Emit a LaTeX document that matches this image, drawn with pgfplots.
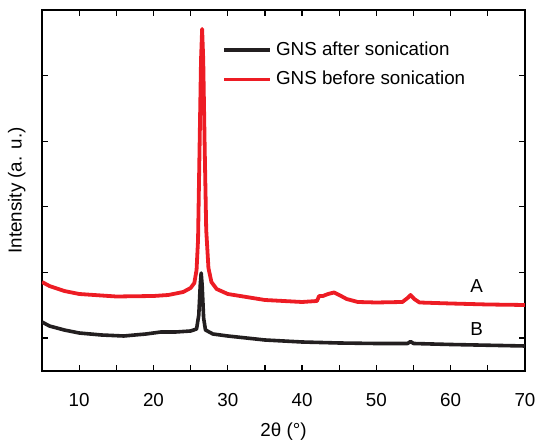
\documentclass[border=0pt]{standalone}
\usepackage{pgfplots}
\pgfplotsset{compat=1.18}
\usepackage{fontspec}
\setmainfont{Liberation Sans}
\definecolor{cred}{RGB}{237,28,36}
\definecolor{cblack}{RGB}{35,31,32}
\begin{document}
\fontsize{9.4pt}{11pt}\selectfont
\begin{tikzpicture}
\begin{axis}[
  scale only axis,
  width=241.5pt, height=180.5pt,
  xmin=5, xmax=70, ymin=0, ymax=361,
  xtick={10,20,30,40,50,60,70},
  minor xtick={5,15,25,35,45,55,65},
  ytick={33,98.6,164.2,229.8,295.4,361},
  yticklabels={},
  tick align=inside,
  major tick length=3pt, minor tick length=3pt,
  axis line style={line width=0.7pt},
  every tick/.style={line width=0.6pt, black},
  /pgf/number format/assume math mode=true,
  ticklabel style={font=\fontsize{9.4pt}{11pt}\selectfont},
  xticklabel style={anchor=center, yshift=-14.5pt},
  xlabel={2θ (°)},
  ylabel={Intensity (a. u.)},
  xlabel style={font=\fontsize{9.4pt}{11pt}\selectfont, at={(axis description cs:0.5,-0.169)}, anchor=center},
  ylabel style={font=\fontsize{9.4pt}{11pt}\selectfont, at={(axis description cs:-0.052,0.5)}, anchor=center},
  legend style={at={(axis description cs:0.36,0.935)}, anchor=north west, draw=none, fill=none,
    font=\fontsize{9.4pt}{11pt}\selectfont, row sep=2.5pt},
  legend cell align=left,
  legend image code/.code={\draw[#1] (0pt,0pt) -- (23pt,0pt);},
]
\addplot[cblack, line width=1.8pt, line join=round] coordinates {
(5,49) (6,45) (8,41) (10,38) (13,36) (16,35) (19,37) (21,39) (23,39) (25,40)
(25.8,42) (26.1,56) (26.3,86) (26.42,98) (26.55,86) (26.75,53) (27.0,41) (28,37)
(30,35) (35,31) (40,29) (45,28) (50,27.5) (54.2,27.5) (54.6,29.5) (55,27.5) (60,26.5) (70,25)
};
\addlegendentry{GNS after sonication}
\addplot[cred, line width=1.9pt, line join=round] coordinates {
(5,89) (6,85) (8,80) (10,77) (15,74.5) (20,75) (22,76) (24,79) (25,83) (25.5,88)
(25.8,101) (26.0,131) (26.2,221) (26.4,311) (26.55,342) (26.7,311) (26.9,221) (27.1,141)
(27.4,103) (27.8,89) (28.5,82) (30,77) (35,71) (40,69) (42,70) (42.3,75) (42.8,75)
(43.5,77) (44.3,78.5) (45,76) (46,72) (47.5,69) (50,68.5) (53.5,69) (54.2,73) (54.6,76)
(55.1,72) (55.8,68.5) (60,67.5) (65,66.5) (70,66)
};
\addlegendentry{GNS before sonication}
\node at (axis cs:63.5,85) {A};
\node at (axis cs:63.5,42) {B};
\end{axis}
\pgfresetboundingbox
\useasboundingbox ([xshift=-21pt,yshift=-36pt]current axis.south west) rectangle ([xshift=6pt,yshift=5pt]current axis.north east);
\end{tikzpicture}
\end{document}
